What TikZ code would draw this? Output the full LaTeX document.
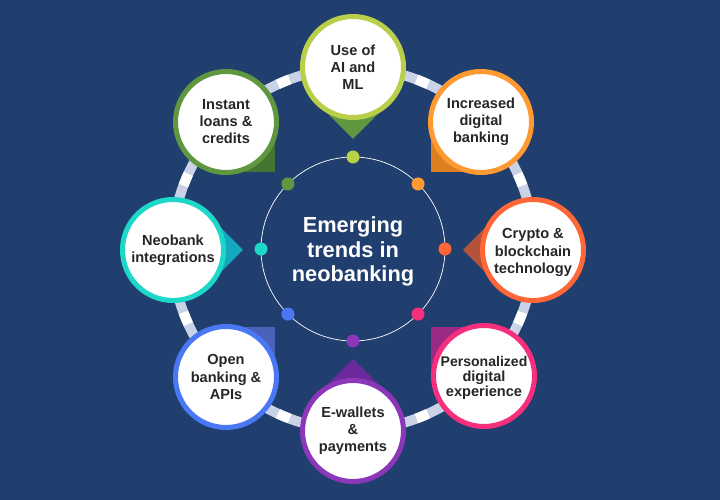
\documentclass[tikz,border=0pt]{standalone}
\usepackage{fontspec}
\setmainfont{Liberation Sans}
\definecolor{navy}{HTML}{213F6E}
\definecolor{ringblue}{HTML}{C9D2E6}
\definecolor{lime}{HTML}{B9CF4A}
\definecolor{limetip}{HTML}{5F9640}
\definecolor{orange}{HTML}{FF9A33}
\definecolor{orangetip}{HTML}{DD7F20}
\definecolor{coral}{HTML}{FF6638}
\definecolor{coraltip}{HTML}{B5523A}
\definecolor{pink}{HTML}{F52F7C}
\definecolor{pinktip}{HTML}{9B2A85}
\definecolor{violet}{HTML}{8A38B8}
\definecolor{violettip}{HTML}{6A2A9E}
\definecolor{azure}{HTML}{4A78F5}
\definecolor{azuretip}{HTML}{4A62B8}
\definecolor{teal}{HTML}{1DD8C8}
\definecolor{tealtip}{HTML}{14A8BF}
\definecolor{leaf}{HTML}{5F9640}
\definecolor{leaftip}{HTML}{447533}
\tikzset{
	bubble/.style={circle,draw,fill=white,line width=0.1cm,minimum size=2.02cm,inner sep=0pt,align=center,text=black!85,font=\fontsize{8.3}{9.7}\selectfont\bfseries},
	dot/.style={circle,inner sep=0pt,minimum size=0.26cm},
}
\begin{document}
\begin{tikzpicture}[x=0.02cm,y=0.02cm]
	\fill[navy] (-353,-251) rectangle (367,249);
	\useasboundingbox (-353,-251) rectangle (367,249);
	% ring behind the bubbles
	\draw[ringblue,line width=0.2cm] (0,0) circle (181);
	\foreach \ang in {22.5,67.5,...,337.5}
		\draw[white,line width=0.2cm] (\ang-2:181) arc (\ang-2:\ang+2:181);
	% inner circle
	\draw[white,line width=0.4pt] (0,0) circle (92);
	\node[dot,fill=lime] (d1) at (90:92) {};
	\node[dot,fill=orange] (d2) at (45:92) {};
	\node[dot,fill=coral] (d3) at (0:92) {};
	\node[dot,fill=pink] (d4) at (-45:92) {};
	\node[dot,fill=violet] (d5) at (-90:92) {};
	\node[dot,fill=azure] (d6) at (-135:92) {};
	\node[dot,fill=teal] (d7) at (180:92) {};
	\node[dot,fill=leaf] (d8) at (135:92) {};
	% pointers
	\fill[limetip] (0,182) -- ++(-36,-36) -- ++(36,-36) -- ++(36,36) -- cycle;
	\fill[orangetip] (128,127) rectangle ++(-50,-50);
	\fill[coraltip] (180,-1) -- ++(-35,35) -- ++(-35,-35) -- ++(35,-35) -- cycle;
	\fill[pinktip] (131,-127) rectangle ++(-53,49);
	\fill[violettip] (0,-182) -- ++(-36,36) -- ++(36,36) -- ++(36,-36) -- cycle;
	\fill[azuretip] (-127,-128) rectangle ++(49,50);
	\fill[tealtip] (-180,-1) -- ++(35,35) -- ++(35,-35) -- ++(-35,-35) -- cycle;
	\fill[leaftip] (-127,127) rectangle ++(49,-50);
	% bubbles
	\node[bubble,draw=lime] (ai) at (0,182) {Use of\\AI and\\ML};
	\node[bubble,draw=orange] (digital) at (128,127) {Increased\\digital\\banking};
	\node[bubble,draw=coral] (crypto) at (180,-1) {\rule{0pt}{8.6pt}Crypto \&\\blockchain\\technology};
	\node[bubble,draw=pink] (personal) at (131,-127) {\rule{0pt}{8.2pt}\fontsize{8}{9.7}\selectfont Personalized\\[-1.1pt]digital\\[-1.1pt]experience};
	\node[bubble,draw=violet] (wallets) at (0,-182) {E-wallets\\\&\\payments};
	\node[bubble,draw=azure] (apis) at (-127,-128) {Open\\banking \&\\APIs};
	\node[bubble,draw=teal] (neo) at (-180,-1) {Neobank\\integrations};
	\node[bubble,draw=leaf] (loans) at (-127,127) {Instant\\loans \&\\credits};
	% title
	\node[white,align=center,font=\fontsize{12.4}{14}\selectfont\bfseries] (title) at (0,-2.5) {Emerging\\trends in\\neobanking};
\end{tikzpicture}
\end{document}
